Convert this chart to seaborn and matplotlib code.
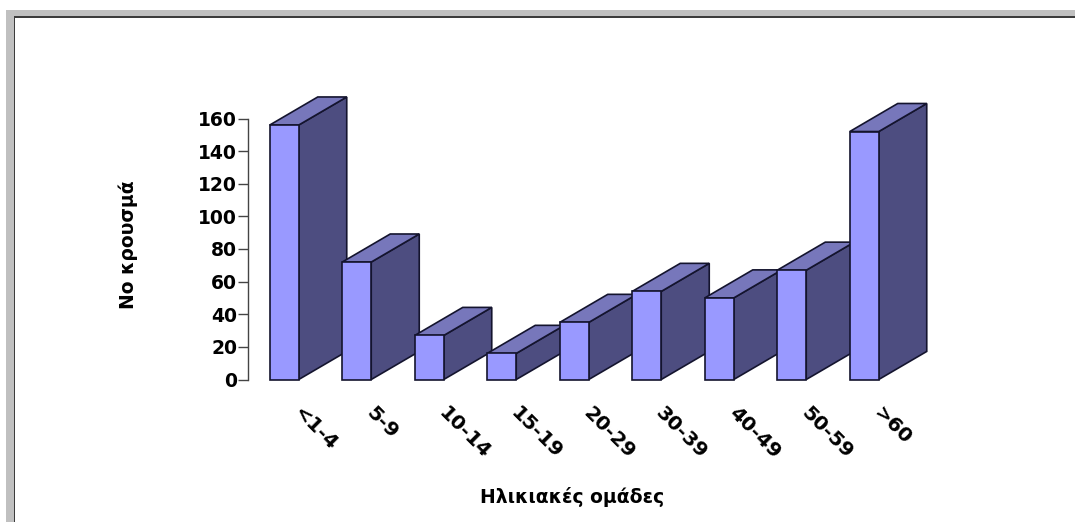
import matplotlib
matplotlib.use("Agg")
import matplotlib.pyplot as plt
import matplotlib.transforms as mtrans
from matplotlib.patches import Polygon, Rectangle
import seaborn as sns

age_groups = ["<1-4", "5-9", "10-14", "15-19", "20-29", "30-39", "40-49", "50-59", ">60"]
cases = [156, 72, 27, 16, 35, 54, 50, 67, 152]
y_ticks = [0, 20, 40, 60, 80, 100, 120, 140, 160]

W, H = 1075, 522
front_col = "#9999ff"
side_col = "#4d4d80"
top_col = "#7777bb"
edge_col = "#14142e"

# 3d depth of the bars, in axis units
depth_x = 0.662
depth_y = 17.2

sns.set_theme(style="white")
plt.rcParams["font.family"] = ["DejaVu Sans"]
plt.rcParams["font.weight"] = "bold"

f = plt.figure(figsize=(W / 100, H / 100), dpi=100, facecolor="white")

# grey window frame, kept behind the axes
def px_rect(x0, y0, x1, y1, color):
    f.add_artist(Rectangle((x0 / W, 1 - y1 / H), (x1 - x0) / W, (y1 - y0) / H,
                           transform=f.transFigure, color=color, lw=0, zorder=-1))

px_rect(6, 10, W, H, "#c0c0c0")
px_rect(14, 16, W, H, "#3c3c3c")
px_rect(15, 18, W, H, "white")

ax = f.add_axes([248 / W, 1 - 379.5 / H, 652.5 / W, 261 / H])
ax.patch.set_alpha(0)
sns.barplot(x=age_groups, y=cases, color=front_col, saturation=1, width=0.4,
            edgecolor=edge_col, linewidth=1.2, ax=ax)
ax.set_xlim(-0.5, 8.5)
ax.set_ylim(0, 160)

for i, bar in enumerate(ax.patches):
    x0, x1 = bar.get_x(), bar.get_x() + bar.get_width()
    h = bar.get_height()
    side = Polygon([(x1, 0), (x1 + depth_x, depth_y), (x1 + depth_x, h + depth_y), (x1, h)],
                   fc=side_col, ec=edge_col, lw=1.2, clip_on=False, zorder=3 + i * 3)
    top = Polygon([(x0, h), (x0 + depth_x, h + depth_y), (x1 + depth_x, h + depth_y), (x1, h)],
                  fc=top_col, ec=edge_col, lw=1.2, clip_on=False, zorder=4 + i * 3)
    ax.add_patch(side)
    ax.add_patch(top)
    bar.set_zorder(5 + i * 3)
    bar.set_clip_on(False)

sns.despine(ax=ax, bottom=True)
ax.spines["left"].set_color("#444444")
ax.spines["left"].set_linewidth(1)
ax.set_yticks(y_ticks)
ax.tick_params(axis="y", length=7.2, width=1, color="#444444", pad=0.5, labelsize=13.5, left=True)
ax.tick_params(axis="x", length=0, pad=17, labelsize=14.5)
ax.set_xticks(range(len(age_groups)))
ax.set_xticklabels(age_groups, rotation=-45, ha="left", rotation_mode="anchor", color="black")
shift = mtrans.ScaledTranslation(19 / 100, 0, f.dpi_scale_trans)
for lab in ax.get_xticklabels():
    lab.set_transform(lab.get_transform() + shift)
for lab in ax.get_yticklabels():
    lab.set_color("black")

f.text(572 / W, 1 - 497 / H, "Ηλικιακές ομάδες", ha="center", va="center",
       fontsize=13.5, color="black")
f.text(128 / W, 1 - 245 / H, "Νο κρουσμά", ha="center", va="center", rotation=90,
       fontsize=13.5, color="black")

f.savefig("out.png", dpi=100)
